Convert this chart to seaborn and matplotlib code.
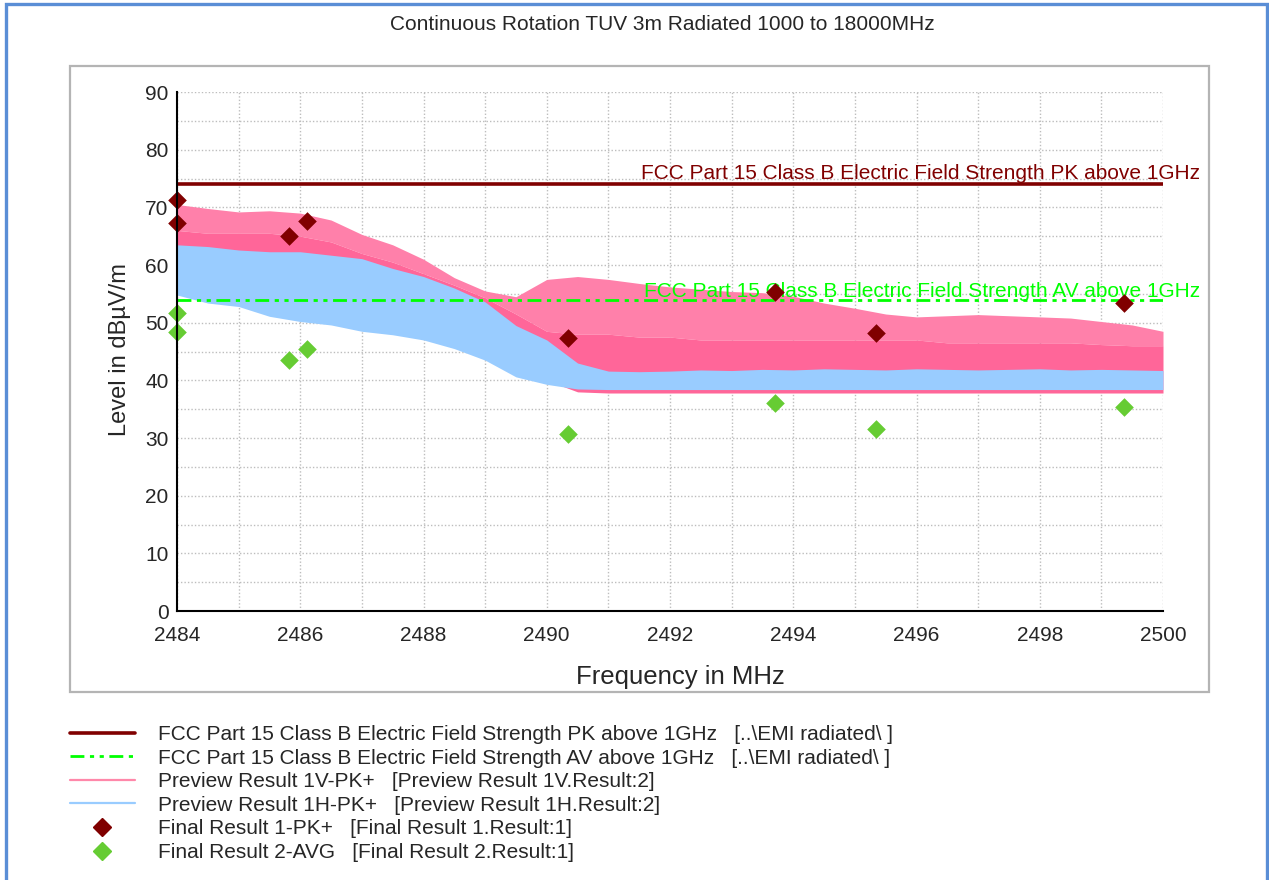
import pandas as pd
import seaborn as sns
import matplotlib as mpl
from matplotlib import pyplot as plt
from matplotlib.lines import Line2D
from matplotlib.patches import Rectangle

# envelope of the preview sweeps, every 0.5 MHz
freq_mhz = [2484.0, 2484.5, 2485.0, 2485.5, 2486.0, 2486.5, 2487.0, 2487.5,
            2488.0, 2488.5, 2489.0, 2489.5, 2490.0, 2490.5, 2491.0, 2491.5,
            2492.0, 2492.5, 2493.0, 2493.5, 2494.0, 2494.5, 2495.0, 2495.5,
            2496.0, 2496.5, 2497.0, 2497.5, 2498.0, 2498.5, 2499.0, 2499.5,
            2500.0]
# vertical sweep: spike tops, dense body, floor
v_peak_top = [70.5, 69.8, 69.2, 69.4, 69.0, 67.8, 65.3, 63.5,
              61.0, 57.8, 55.5, 54.5, 57.5, 58.0, 57.5, 56.8,
              56.2, 55.8, 55.4, 55.2, 54.6, 53.4, 52.5, 51.5,
              51.0, 51.2, 51.4, 51.2, 51.0, 50.8, 50.2, 49.6,
              48.5]
v_peak_body = [66.0, 65.5, 65.5, 65.5, 65.0, 64.0, 62.0, 60.5,
               58.5, 56.5, 54.3, 51.5, 48.5, 48.0, 48.0, 47.5,
               47.5, 47.0, 47.0, 47.0, 47.0, 47.0, 47.0, 47.0,
               47.0, 46.5, 46.5, 46.5, 46.5, 46.5, 46.2, 46.0,
               46.0]
v_peak_low = [56.0, 54.5, 54.0, 52.0, 51.0, 50.5, 49.5, 49.0,
              48.0, 46.5, 44.5, 41.5, 40.0, 38.0, 37.8, 37.8,
              37.8, 37.8, 37.8, 37.8, 37.8, 37.8, 37.8, 37.8,
              37.8, 37.8, 37.8, 37.8, 37.8, 37.8, 37.8, 37.8,
              37.8]
# horizontal sweep
h_peak_top = [63.5, 63.2, 62.6, 62.3, 62.3, 61.7, 61.1, 59.4,
              58.0, 56.0, 53.6, 49.5, 47.0, 43.0, 41.6, 41.5,
              41.6, 41.8, 41.7, 41.9, 41.8, 42.0, 41.9, 41.8,
              42.0, 41.9, 41.8, 41.9, 42.0, 41.8, 41.9, 41.8,
              41.7]
h_peak_low = [54.8, 53.4, 52.8, 51.1, 50.2, 49.6, 48.5, 47.9,
              47.0, 45.5, 43.5, 40.6, 39.3, 38.5, 38.4, 38.4,
              38.4, 38.4, 38.4, 38.4, 38.4, 38.4, 38.4, 38.4,
              38.4, 38.4, 38.4, 38.4, 38.4, 38.4, 38.4, 38.4,
              38.4]

# final measurements
final_freq = [2484.0, 2484.0, 2485.82, 2486.11, 2490.35, 2493.71, 2495.35, 2499.37]
final_pk = [71.3, 67.3, 65.0, 67.6, 47.4, 55.4, 48.2, 53.4]
avg_freq = [2484.0, 2484.0, 2485.82, 2486.11, 2490.35, 2493.71, 2495.35, 2499.37]
final_avg = [51.7, 48.4, 43.5, 45.4, 30.7, 36.1, 31.6, 35.4]

# limits
limit_freq = [2484.0, 2500.0]
limit_pk = [74.0, 74.0]
limit_av = [54.0, 54.0]

PK_RED = "#800000"
AV_GREEN = "#00FF00"
PINK = "#FF6699"
PINK_SPIKES = "#FF80AA"
BLUE = "#99CCFF"
MARK_GREEN = "#66CC33"
AV_DASH = (0, (5, 2, 1.5, 2, 1.5, 2))

sns.set_style("white")
plt.rcParams["font.family"] = ["Liberation Sans", "DejaVu Sans"]

fig = plt.figure(figsize=(12.69, 8.80), dpi=100)
ax = fig.add_axes([177 / 1269, 1 - 611 / 880, 986 / 1269, 519 / 880])
ax.set_facecolor("none")

# outer frame + plot box
fig.patches.append(Rectangle((6.5 / 1269, -0.02), 1260 / 1269, 1.0155,
                             transform=fig.transFigure, fill=False,
                             edgecolor="#5A8ED6", lw=2.4, zorder=0))
fig.patches.append(Rectangle((70 / 1269, 1 - 692 / 880), 1139 / 1269, 626 / 880,
                             transform=fig.transFigure, fill=False,
                             edgecolor="#B4B4B4", lw=1.6, zorder=0))

# preview sweeps
ax.fill_between(freq_mhz, v_peak_body, v_peak_top, color=PINK_SPIKES, lw=0, zorder=2)
ax.fill_between(freq_mhz, v_peak_low, v_peak_body, color=PINK, lw=0, zorder=2)
ax.fill_between(freq_mhz, h_peak_low, h_peak_top, color=BLUE, lw=0, zorder=3)

lim = pd.DataFrame({"freq": limit_freq, "pk": limit_pk, "av": limit_av})
sns.lineplot(data=lim, x="freq", y="pk", color=PK_RED, lw=2.6, ax=ax, zorder=4)
sns.lineplot(data=lim, x="freq", y="av", color=AV_GREEN, lw=2.0, ax=ax, zorder=4,
             linestyle=AV_DASH)

ax.text(2500.6, 74.2, "FCC Part 15 Class B Electric Field Strength PK above 1GHz",
        color=PK_RED, fontsize=15, ha="right", va="bottom", clip_on=False, zorder=5)
ax.text(2500.6, 53.7, "FCC Part 15 Class B Electric Field Strength AV above 1GHz",
        color=AV_GREEN, fontsize=15, ha="right", va="bottom", clip_on=False, zorder=5)

pk = pd.DataFrame({"freq": final_freq, "level": final_pk})
av = pd.DataFrame({"freq": avg_freq, "level": final_avg})
sns.scatterplot(data=pk, x="freq", y="level", marker="D", s=90, color=PK_RED,
                linewidth=0, ax=ax, zorder=6, clip_on=False)
sns.scatterplot(data=av, x="freq", y="level", marker="D", s=90, color=MARK_GREEN,
                linewidth=0, ax=ax, zorder=6, clip_on=False)

ax.set_xlim(2484, 2500)
ax.set_ylim(0, 90)
ax.set_xticks(range(2484, 2501, 2))
ax.set_xticks(range(2485, 2500, 2), minor=True)
ax.set_yticks(range(0, 91, 10))
ax.set_yticks(range(5, 90, 10), minor=True)
ax.tick_params(which="both", direction="inout", length=10, width=1.3,
               color="black", labelsize=15)
ax.tick_params(axis="y", pad=1)
ax.tick_params(axis="x", pad=6)
ax.grid(which="both", color="#BDBDBD", lw=1.0, linestyle=(0, (1, 1.5)), zorder=1)
ax.set_axisbelow(True)
for side in ["top", "right"]:
    ax.spines[side].set_visible(False)
for side in ["left", "bottom"]:
    ax.spines[side].set_color("black")
    ax.spines[side].set_linewidth(1.5)
    ax.spines[side].set_zorder(7)

ax.set_xlabel("Frequency in MHz", fontsize=18.5)
ax.set_ylabel("Level in dBµV/m", fontsize=17)
ax.xaxis.set_label_coords(0.511, -0.104)
ax.yaxis.set_label_coords(-0.047, 0.503)

fig.text(662 / 1269, 1 - 25 / 880, "Continuous Rotation TUV 3m Radiated 1000 to 18000MHz",
         fontsize=15, ha="center", va="center")

handles = [
    Line2D([], [], color=PK_RED, lw=2.6),
    Line2D([], [], color=AV_GREEN, lw=2.0, linestyle=AV_DASH),
    Line2D([], [], color="#FF88AA", lw=1.6),
    Line2D([], [], color=BLUE, lw=1.6),
    Line2D([], [], color=PK_RED, marker="D", markersize=9, lw=0),
    Line2D([], [], color=MARK_GREEN, marker="D", markersize=9, lw=0),
]
labels = [
    r"FCC Part 15 Class B Electric Field Strength PK above 1GHz   [..\EMI radiated\ ]",
    r"FCC Part 15 Class B Electric Field Strength AV above 1GHz   [..\EMI radiated\ ]",
    "Preview Result 1V-PK+   [Preview Result 1V.Result:2]",
    "Preview Result 1H-PK+   [Preview Result 1H.Result:2]",
    "Final Result 1-PK+   [Final Result 1.Result:1]",
    "Final Result 2-AVG   [Final Result 2.Result:1]",
]
fig.legend(handles, labels, loc="upper left",
           bbox_to_anchor=(70 / 1269, 1 - 725 / 880), frameon=False,
           fontsize=15, handlelength=3.1, handletextpad=1.1,
           labelspacing=0.22, borderpad=0, borderaxespad=0)

plt.savefig("out.png", dpi=100)
